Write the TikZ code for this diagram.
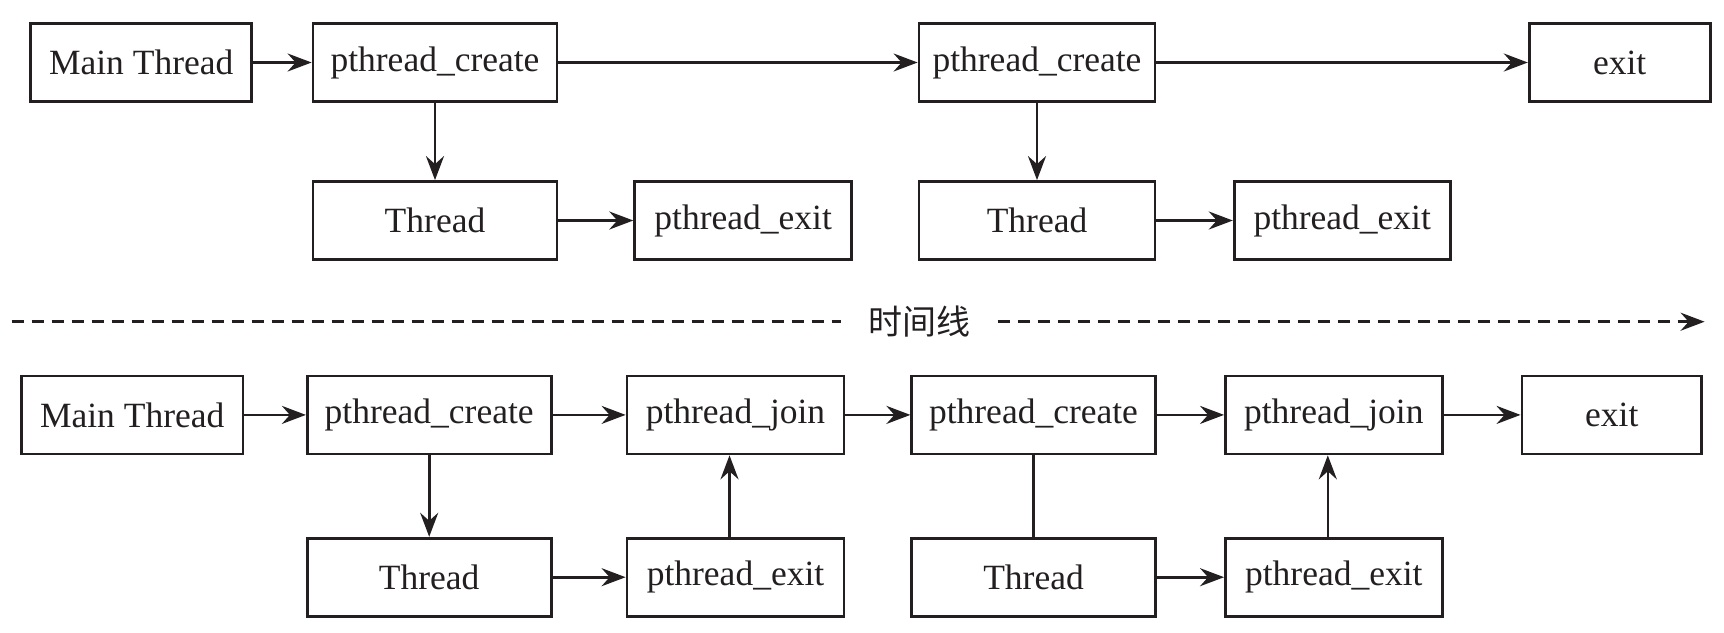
\documentclass[tikz,border=0pt]{standalone}
\usepackage{fontspec}
\setmainfont{Liberation Serif}
\newfontfamily\cjk{Noto Sans CJK SC}
\usetikzlibrary{arrows.meta,calc}
\definecolor{ink}{RGB}{35,31,32}
\begin{document}
\begin{tikzpicture}[x=1pt,y=-1pt,
  box/.style={draw=ink,line width=2.8pt,minimum height=78pt,inner sep=0pt,
    font=\fontsize{35.5}{40}\selectfont,text=ink,anchor=center},
  tip/.style={-{Stealth[length=24pt,width=18pt,inset=8pt]}},
  conn/.style={draw=ink,line width=2.6pt,tip},
  plain/.style={draw=ink,line width=2.6pt},
  tline/.style={draw=ink,line width=2.6pt,dash pattern=on 12pt off 8pt},
]
\useasboundingbox (0,0) rectangle (1724,632);
% top
\node[box,minimum width=221pt] (MT1) at (141.2,62.5) {Main Thread};
\node[box,minimum width=244pt] (PC1) at (435,62.5) {pthread\_create};
\node[box,minimum width=244pt] (T1) at (435,220.5) {Thread};
\node[box,minimum width=217pt] (PE1) at (743.2,220.5) {pthread\_exit};
\node[box,minimum width=236pt] (PC2) at (1037,62.5) {pthread\_create};
\node[box,minimum width=236pt] (T2) at (1037,220.5) {Thread};
\node[box,minimum width=216pt] (PE2) at (1342.2,220.5) {pthread\_exit};
\node[box,minimum width=181pt] (EX1) at (1619.7,62.5) {exit};
\draw[conn] (MT1) -- (PC1);
\draw[conn] (PC1) -- (PC2);
\draw[conn] (PC2) -- (EX1);
\draw[conn] (PC1) -- (T1);
\draw[conn] (PC2) -- (T2);
\draw[conn] (T1) -- (PE1);
\draw[conn] (T2) -- (PE2);
% timeline
\coordinate (TS) at (11.5,321.7);
\coordinate (TE) at (1704.6,321.7);
\node[inner xsep=27pt,inner ysep=0pt,font=\cjk\fontsize{34}{38}\selectfont,text=ink] (TL) at (919.5,321.7) {时间线};
\draw[tline] (TS) -- (TL.west);
\draw[tline,tip] (TL.east) -- (TE);
% bottom
\node[box,minimum width=221.6pt] (MT2) at (132.2,414.9) {Main Thread};
\node[box,minimum width=243.8pt] (PC3) at (429.2,414.9) {pthread\_create};
\node[box,minimum width=243.8pt] (T3) at (429.2,577.2) {Thread};
\node[box,minimum width=217pt] (PJ1) at (735.5,414.9) {pthread\_join};
\node[box,minimum width=217pt] (PE3) at (735.5,577.2) {pthread\_exit};
\node[box,minimum width=243.4pt] (PC4) at (1033.5,414.9) {pthread\_create};
\node[box,minimum width=243.4pt] (T4) at (1033.5,577.2) {Thread};
\node[box,minimum width=216.7pt] (PJ2) at (1333.8,414.9) {pthread\_join};
\node[box,minimum width=216.7pt] (PE4) at (1333.8,577.2) {pthread\_exit};
\node[box,minimum width=179.7pt] (EX2) at (1611.8,414.9) {exit};
\draw[conn] (MT2) -- (PC3);
\draw[conn] (PC3) -- (PJ1);
\draw[conn] (PJ1) -- (PC4);
\draw[conn] (PC4) -- (PJ2);
\draw[conn] (PJ2) -- (EX2);
\draw[conn] (PC3) -- (T3);
\draw[conn] (T3) -- (PE3);
\draw[conn] ($(PE3.north)+(-6,0)$) -- ($(PJ1.south)+(-6,0)$);
\draw[plain] (PC4) -- (T4);
\draw[conn] (T4) -- (PE4);
\draw[conn] ($(PE4.north)+(-6,0)$) -- ($(PJ2.south)+(-6,0)$);
\end{tikzpicture}
\end{document}
